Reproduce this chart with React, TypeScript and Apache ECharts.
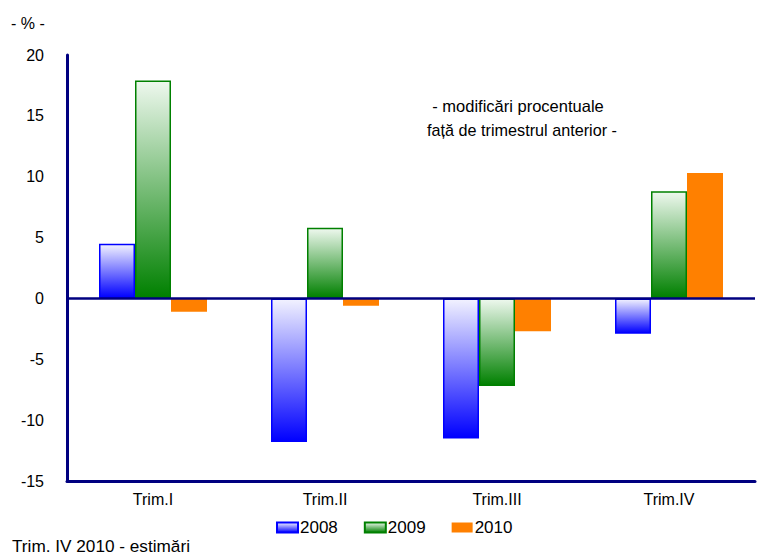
import React, { useEffect, useRef } from "react";
import * as echarts from "echarts";

const categories = ["Trim.I", "Trim.II", "Trim.III", "Trim.IV"];
const seriesNames = ["2008", "2009", "2010"];
const values2008 = [4.5, -11.8, -11.5, -2.9];
const values2009 = [17.9, 5.8, -7.2, 8.8];
const values2010 = [-1.1, -0.6, -2.7, 10.3];
const yMin = -15;
const yMax = 20;
const yInterval = 5;
const unitLabel = "- % -";
const noteLines = ["- modificări procentuale", "față de trimestrul anterior -"];
const footnote = "Trim. IV 2010 - estimări";

const FONT = "Liberation Sans, Arial, sans-serif";
const NAVY = "#000080";

function grad(top: string, bottom: string) {
  return new echarts.graphic.LinearGradient(0, 0, 0, 1, [
    { offset: 0, color: top },
    { offset: 1, color: bottom },
  ]);
}

export default function App() {
  const ref = useRef<HTMLDivElement>(null);
  useEffect(() => {
    if (!ref.current) return;
    const chart = echarts.init(ref.current, undefined, { renderer: "svg" });
    const barCommon = {
      type: "bar" as const,
      barWidth: 36,
      barGap: "0%",
    };
    chart.setOption({
      animation: false,
      textStyle: { fontFamily: FONT },
      grid: { left: 67, right: 2, top: 55, bottom: 76 },
      xAxis: {
        type: "category",
        data: categories,
        axisLine: { onZero: false, lineStyle: { color: NAVY, width: 3 } },
        axisTick: { show: false },
        axisLabel: { color: "#000", fontSize: 16, fontFamily: FONT, margin: 10 },
      },
      yAxis: {
        type: "value",
        min: yMin,
        max: yMax,
        interval: yInterval,
        axisLine: { show: true, lineStyle: { color: NAVY, width: 3 } },
        axisTick: { show: false },
        splitLine: { show: false },
        axisLabel: { color: "#000", fontSize: 16, fontFamily: FONT, margin: 23 },
      },
      legend: {
        data: seriesNames,
        icon: "rect",
        left: 271,
        top: 514,
        itemWidth: 21,
        itemHeight: 10,
        itemGap: 26,
        textStyle: { color: "#000", fontSize: 17, fontFamily: FONT, padding: [0, 0, 0, -3] },
      },
      series: [
        {
          ...barCommon,
          name: seriesNames[0],
          data: values2008,
          itemStyle: { color: grad("#f2f2ff", "#0000ff"), borderColor: "#0000ff", borderWidth: 1.5 },
          markLine: {
            silent: true,
            symbol: "none",
            label: { show: false },
            lineStyle: { color: NAVY, width: 2.5, type: "solid" },
            data: [{ yAxis: 0 }],
          },
        },
        {
          ...barCommon,
          name: seriesNames[1],
          data: values2009,
          itemStyle: { color: grad("#eef8ee", "#008000"), borderColor: "#008000", borderWidth: 1.5 },
        },
        {
          ...barCommon,
          name: seriesNames[2],
          data: values2010,
          itemStyle: { color: "#ff8000" },
        },
      ],
      graphic: [
        {
          type: "text",
          left: 11,
          top: 15,
          style: { text: unitLabel, fontSize: 16, fontFamily: FONT, fill: "#000" },
        },
        {
          type: "text",
          x: 518,
          y: 106,
          style: { text: noteLines[0], fontSize: 16.5, fontFamily: FONT, fill: "#000", align: "center", verticalAlign: "middle" },
        },
        {
          type: "text",
          x: 522,
          y: 130,
          style: { text: noteLines[1], fontSize: 16.2, fontFamily: FONT, fill: "#000", align: "center", verticalAlign: "middle" },
        },
        {
          type: "text",
          x: 12,
          y: 546,
          style: { text: footnote, fontSize: 17.2, fontFamily: FONT, fill: "#000", verticalAlign: "middle" },
        },
      ],
    });
    return () => chart.dispose();
  }, []);
  return (
    <div
      ref={ref}
      style={{ position: "absolute", left: 0, top: 0, width: 757, height: 557 }}
    />
  );
}
